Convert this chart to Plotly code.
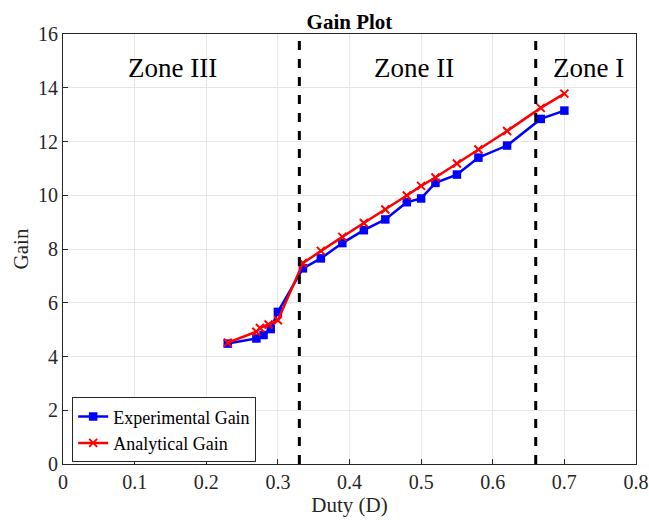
import plotly.graph_objects as go

# Data
exp_duty = [0.23, 0.27, 0.28, 0.29, 0.30, 0.335, 0.36, 0.39, 0.42, 0.45, 0.48, 0.50, 0.52, 0.55, 0.58, 0.62, 0.667, 0.70]
exp_gain = [4.48, 4.67, 4.80, 5.02, 5.66, 7.28, 7.65, 8.22, 8.70, 9.10, 9.74, 9.88, 10.46, 10.77, 11.40, 11.85, 12.84, 13.15]

ana_duty = [0.23, 0.27, 0.275, 0.287, 0.30, 0.335, 0.36, 0.39, 0.42, 0.45, 0.48, 0.50, 0.52, 0.55, 0.58, 0.62, 0.667, 0.70]
ana_gain = [4.51, 4.92, 5.06, 5.19, 5.35, 7.48, 7.93, 8.45, 8.97, 9.47, 9.99, 10.35, 10.66, 11.18, 11.70, 12.39, 13.25, 13.78]

zone_bounds = [0.33, 0.66]
zone_labels = ["Zone III", "Zone II", "Zone I"]
zone_label_x = [0.153, 0.49, 0.733]
zone_label_y = 14.72

x_ticks = [0, 0.1, 0.2, 0.3, 0.4, 0.5, 0.6, 0.7, 0.8]
x_tick_text = ["0", "0.1", "0.2", "0.3", "0.4", "0.5", "0.6", "0.7", "0.8"]
y_ticks = [0, 2, 4, 6, 8, 10, 12, 14, 16]

FONT = "Liberation Serif, Times New Roman, serif"

fig = go.Figure()
fig.add_trace(go.Scatter(
    x=exp_duty, y=exp_gain, mode="lines+markers", name="Experimental Gain",
    line=dict(color="#0000FF", width=2.5),
    marker=dict(symbol="square", size=8.5, color="#0000FF"),
))
fig.add_trace(go.Scatter(
    x=ana_duty, y=ana_gain, mode="lines+markers", name="Analytical Gain",
    line=dict(color="#FF0000", width=2.5),
    marker=dict(symbol="x-thin", size=8, color="#FF0000", line=dict(color="#FF0000", width=2)),
))

for xb in zone_bounds:
    fig.add_shape(type="line", x0=xb, x1=xb, y0=0, y1=16, xref="x", yref="y",
                  line=dict(color="black", width=3, dash="dash"))

for lbl, lx in zip(zone_labels, zone_label_x):
    fig.add_annotation(x=lx, y=zone_label_y, text=lbl, showarrow=False,
                       font=dict(family=FONT, size=27, color="black"))

axis_common = dict(
    showline=True, linecolor="#262626", linewidth=1, mirror=True,
    ticks="inside", ticklen=5, tickcolor="#262626",
    showgrid=True, gridcolor="#E6E6E6", gridwidth=1,
    zeroline=False, automargin=False,
    tickfont=dict(family=FONT, size=20, color="#262626"),
)

fig.update_layout(
    width=649, height=520,
    margin=dict(l=63, r=13, t=34, b=56),
    paper_bgcolor="white", plot_bgcolor="white",
    title=dict(text="<b>Gain Plot</b>", xref="paper", x=0.5, xanchor="center",
               yref="container", y=0.958, yanchor="middle",
               font=dict(family=FONT, size=21, color="black")),
    xaxis=dict(range=[0, 0.8], tickvals=x_ticks, ticktext=x_tick_text,
               title=dict(text="Duty (D)", font=dict(family=FONT, size=21, color="#262626"), standoff=1),
               **axis_common),
    yaxis=dict(range=[0, 16], tickvals=y_ticks,
               title=dict(text="Gain", font=dict(family=FONT, size=21, color="#262626"), standoff=3),
               **axis_common),
    legend=dict(x=0.016, y=0.004, xanchor="left", yanchor="bottom",
                bgcolor="white", bordercolor="#262626", borderwidth=1,
                font=dict(family=FONT, size=18, color="black"),
                tracegroupgap=0, itemwidth=30),
    showlegend=True,
)

fig.write_html("out.html")
